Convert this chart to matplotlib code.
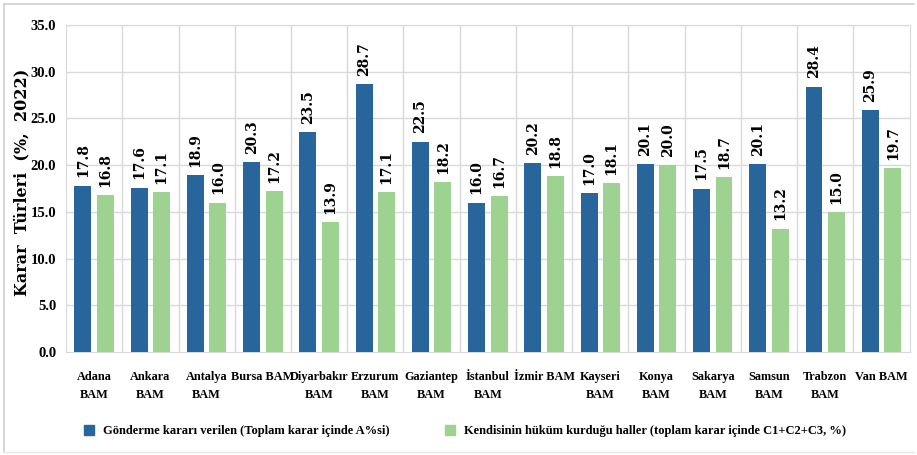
import numpy as np
import matplotlib.pyplot as plt
from matplotlib.lines import Line2D

plt.rcParams['font.family'] = ['Liberation Serif', 'DejaVu Serif']
plt.rcParams['font.weight'] = 'bold'

# Veriler
bolgeler = ['Adana\nBAM', 'Ankara\nBAM', 'Antalya\nBAM', 'Bursa BAM', 'Diyarbakır\nBAM',
            'Erzurum\nBAM', 'Gaziantep\nBAM', 'İstanbul\nBAM', 'İzmir BAM', 'Kayseri\nBAM',
            'Konya\nBAM', 'Sakarya\nBAM', 'Samsun\nBAM', 'Trabzon\nBAM', 'Van BAM']
gonderme = [17.8, 17.6, 18.9, 20.3, 23.5, 28.7, 22.5, 16.0, 20.2, 17.0, 20.1, 17.5, 20.1, 28.4, 25.9]
hukum = [16.8, 17.1, 16.0, 17.2, 13.9, 17.1, 18.2, 16.7, 18.8, 18.1, 20.0, 18.7, 13.2, 15.0, 19.7]

seri_adlari = ['Gönderme kararı verilen (Toplam karar içinde A%si)',
               'Kendisinin hüküm kurduğu haller (toplam karar içinde C1+C2+C3, %)']
renk_mavi = '#28659A'
renk_yesil = '#9DD290'

fig = plt.figure(figsize=(9.17, 4.55), dpi=100)
ax = fig.add_axes([0.072, 0.2264, 0.920, 0.7186])

x = np.arange(len(bolgeler))
w = 0.30
b1 = ax.bar(x - 0.2, gonderme, w, color=renk_mavi, zorder=3)
b2 = ax.bar(x + 0.2, hukum, w, color=renk_yesil, zorder=3)

for bars, vals in [(b1, gonderme), (b2, hukum)]:
    for r, v in zip(bars, vals):
        ax.annotate(f'{v:.1f}', (r.get_x() + r.get_width() / 2, v),
                    xytext=(0, 6), textcoords='offset points',
                    ha='center', va='bottom', rotation=90,
                    fontsize=10, fontweight='bold', fontfamily='DejaVu Serif')

ax.set_xlim(-0.5, len(bolgeler) - 0.5)
ax.set_ylim(0, 35)
ax.set_yticks(np.arange(0, 35.1, 5))
ax.set_yticklabels([f'{v:.1f}' for v in np.arange(0, 35.1, 5)], fontsize=10.5, fontweight='bold')
ax.set_xticks(x)
ax.set_xticklabels(bolgeler, fontsize=8.8, fontweight='bold', linespacing=1.65, va='top')
ax.tick_params(axis='both', length=0)
ax.tick_params(axis='x', pad=14)
ax.tick_params(axis='y', pad=7)

# ızgara
for yv in np.arange(5, 35.1, 5):
    ax.axhline(yv, color='#D9D9D9', lw=1, zorder=1)
for xv in np.arange(0.5, len(bolgeler) - 0.5, 1):
    ax.axvline(xv, color='#D9D9D9', lw=1, zorder=1)
for s in ax.spines.values():
    s.set_color('#D9D9D9')

ax.set_ylabel('Karar  Türleri  (%,  2022)', fontsize=11.5, fontweight='bold', fontfamily='DejaVu Serif')
ax.yaxis.set_label_coords(-0.042, 0.52)

h = [Line2D([], [], marker='s', ls='', color=renk_mavi, markersize=6.5),
     Line2D([], [], marker='s', ls='', color=renk_yesil, markersize=6.5)]
fig.legend(h, seri_adlari, loc='center', bbox_to_anchor=(0.503, 0.052), ncol=2,
           frameon=False, fontsize=9.0, handletextpad=0.15, columnspacing=3.8)

# dış çerçeve
fig.add_artist(Line2D([0.004, 0.997], [0.991, 0.991], color='#D0D0D0', lw=1.2, transform=fig.transFigure))
fig.add_artist(Line2D([0.004, 0.004], [0.991, 0.006], color='#D0D0D0', lw=1.2, transform=fig.transFigure))
fig.add_artist(Line2D([0.004, 0.997], [0.006, 0.006], color='#E8E8E8', lw=1.0, transform=fig.transFigure))

fig.savefig('out.png', dpi=100)
